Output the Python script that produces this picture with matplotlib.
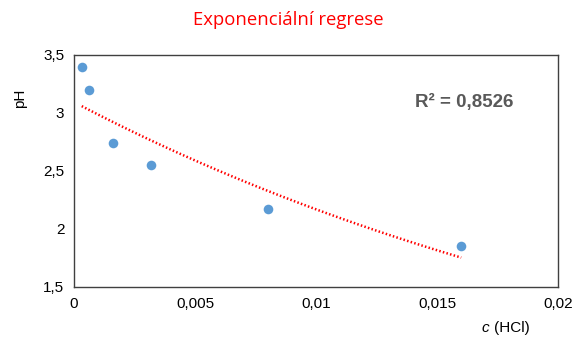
import numpy as np
import matplotlib
matplotlib.use('Agg')
import matplotlib.pyplot as plt
from matplotlib.ticker import FuncFormatter

# koncentrace HCl a namerene pH
c_hcl = [0.00032, 0.00064, 0.0016, 0.0032, 0.008, 0.016]
ph = [3.40, 3.20, 2.74, 2.55, 2.17, 1.85]
x_ticks = [0, 0.005, 0.01, 0.015, 0.02]
y_ticks = [1.5, 2, 2.5, 3, 3.5]
title = 'Exponenciální regrese'
r2_text = 'R² = 0,8526'

plt.rcParams['font.family'] = ['Liberation Sans', 'DejaVu Sans']

fig = plt.figure(figsize=(5.77, 3.40), dpi=100)
ax = fig.add_axes([74/577, 1-287/340, (558-74)/577, (287-55)/340])

# exponencialni trend y = a*exp(b*x)
x = np.array(c_hcl)
b, lna = np.polyfit(x, np.log(ph), 1)
xs = np.linspace(x.min(), x.max(), 100)
ax.plot(xs, np.exp(lna)*np.exp(b*xs), color='#FF0000', lw=1.8, ls=(0, (0.6, 0.9)),
        zorder=2)

ax.scatter(c_hcl, ph, s=48, color='#5B9BD5', zorder=3, linewidths=0)

ax.set_xlim(0, 0.02)
ax.set_ylim(1.5, 3.5)
ax.set_xticks(x_ticks)
ax.set_yticks(y_ticks)
fmt = FuncFormatter(lambda v, p: ('%g' % v).replace('.', ','))
ax.xaxis.set_major_formatter(fmt)
ax.yaxis.set_major_formatter(fmt)
ax.tick_params(length=0, labelsize=11, colors='#000000', pad=7)
for s in ax.spines.values():
    s.set_color('#404040')
    s.set_linewidth(1.0)

fig.text(0.5, 1-20/340, title, color='#FF0000', fontsize=13.3,
         ha='center', va='center', family=['Open Sans', 'DejaVu Sans'])
ax.text(0.705, 0.795, r2_text, transform=ax.transAxes, fontsize=13.5,
        fontweight='bold', color='#595959', ha='left', va='center')
fig.text(20/577, 1-98/340, 'pH', rotation=90, fontsize=11, ha='center', va='center')
fig.text(481/577, 1-328/340, 'c', fontsize=11, style='italic', ha='left', va='center')
fig.text(494/577, 1-328/340, '(HCl)', fontsize=11, ha='left', va='center')

fig.savefig('out.png', dpi=100)
